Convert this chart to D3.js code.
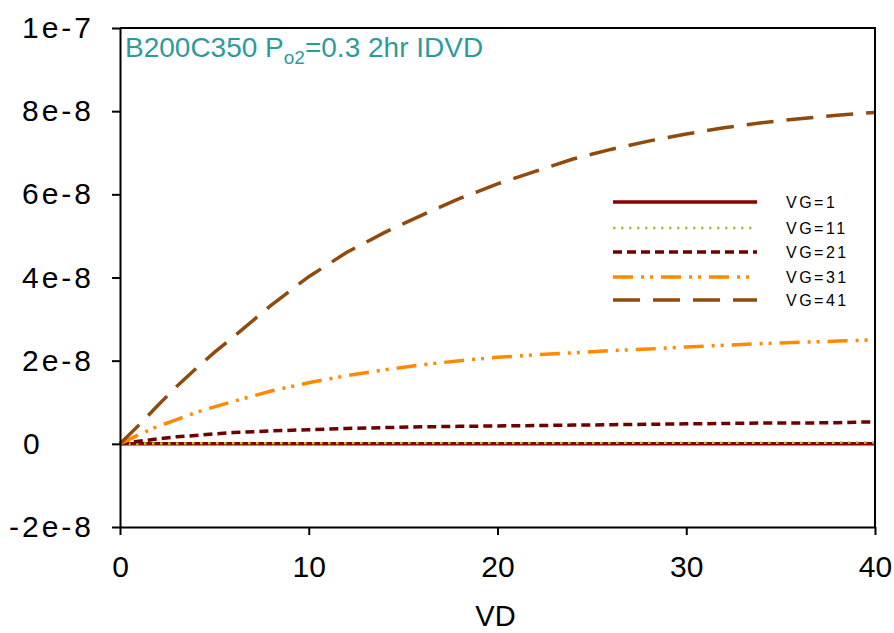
<!DOCTYPE html>
<html>
<head>
<meta charset="utf-8">
<script src="https://cdn.jsdelivr.net/npm/d3@7"></script>
<style>
  body { margin: 0; background: #fff; }
  text { font-family: "Liberation Sans", Arial, sans-serif; }
</style>
</head>
<body>
<div id="chart"></div>
<script>
// drain voltage (x)
const vd = [0, 1, 2, 3, 4, 5, 6, 8, 10, 12, 14, 16, 18, 20, 22, 24, 26, 28, 30, 32, 34, 36, 38, 40];
// drain current, in units of 1e-8
const vg1 = [0, 0, 0, 0, 0, 0, 0, 0, 0, 0, 0, 0, 0, 0, 0, 0, 0, 0, 0, 0, 0, 0, 0, 0];
const vg11 = [0, 0.005, 0.01, 0.01, 0.012, 0.013, 0.014, 0.015, 0.016, 0.017, 0.018, 0.019, 0.02, 0.02, 0.021, 0.022, 0.023, 0.024, 0.025, 0.026, 0.027, 0.028, 0.029, 0.03];
const vg21 = [0, 0.06, 0.12, 0.17, 0.2, 0.24, 0.27, 0.31, 0.34, 0.37, 0.39, 0.41, 0.42, 0.43, 0.44, 0.45, 0.46, 0.47, 0.48, 0.49, 0.5, 0.5, 0.51, 0.53];
const vg31 = [0, 0.22, 0.42, 0.58, 0.75, 0.89, 1.02, 1.27, 1.47, 1.64, 1.78, 1.9, 2.0, 2.08, 2.14, 2.19, 2.24, 2.28, 2.33, 2.37, 2.41, 2.44, 2.47, 2.5];
const vg41 = [0, 0.45, 0.92, 1.38, 1.8, 2.2, 2.57, 3.33, 4.02, 4.6, 5.08, 5.5, 5.9, 6.25, 6.55, 6.85, 7.08, 7.28, 7.45, 7.6, 7.72, 7.82, 7.9, 7.97];

const seriesNames = ["VG=1", "VG=11", "VG=21", "VG=31", "VG=41"];
const seriesValues = [vg1, vg11, vg21, vg31, vg41];

const xTicks = [0, 10, 20, 30, 40];
const yTicks = [-2e-8, 0, 2e-8, 4e-8, 6e-8, 8e-8, 1e-7];
const yTickLabels = ["-2e-8", "0", "2e-8", "4e-8", "6e-8", "8e-8", "1e-7"];

// line look per series
const styles = [
    { color: "#8b0000", width: 3.5, dash: null },
    { color: "#a8cc1c", width: 2.5, dash: "2.5,5.5" },
    { color: "#6e0000", width: 3.5, dash: "9,5" },
    { color: "#ff8a00", width: 3.5, dash: "20,8,3,6,3,8" },
    { color: "#8f4a0c", width: 3.5, dash: "27,13" }
];

const width = 894;
const height = 633;
const marginTop = 28;
const marginRight = 19;
const marginBottom = 106;
const marginLeft = 120;

const x = d3.scaleLinear()
    .domain([0, 40])
    .range([marginLeft, width - marginRight]);

const y = d3.scaleLinear()
    .domain([-2e-8, 1e-7])
    .range([height - marginBottom, marginTop]);

const svg = d3.select("#chart")
    .append("svg")
    .attr("width", width)
    .attr("height", height)
    .attr("viewBox", [0, 0, width, height]);

// lines
const line = d3.line()
    .x(d => x(d[0]))
    .y(d => y(d[1] * 1e-8));

seriesValues.forEach((vals, i) => {
    const s = styles[i];
    svg.append("path")
        .datum(vd.map((v, j) => [v, vals[j]]))
        .attr("fill", "none")
        .attr("stroke", s.color)
        .attr("stroke-width", s.width)
        .attr("stroke-dasharray", s.dash)
        .attr("d", line);
});

// frame: top and right edges
svg.append("path")
    .attr("fill", "none")
    .attr("stroke", "#000")
    .attr("stroke-width", 2)
    .attr("d", `M${x(0)},${y(1e-7)}H${x(40)}V${y(-2e-8)}`);

// y axis
svg.append("g")
    .attr("transform", `translate(${marginLeft},0)`)
    .call(d3.axisLeft(y).tickValues(yTicks).tickSize(8).tickSizeOuter(0)
        .tickFormat((d, i) => yTickLabels[i]))
    .call(g => g.select(".domain").attr("stroke-width", 2))
    .call(g => g.selectAll(".tick line").attr("stroke-width", 2))
    .selectAll("text")
    .attr("fill", "#000")
    .style("font-size", "30px")
    .style("letter-spacing", "3px")
    .attr("x", (d) => d === 0 ? -97 : -26)
    .attr("text-anchor", (d) => d === 0 ? "start" : "end");

// x axis
svg.append("g")
    .attr("transform", `translate(0,${height - marginBottom})`)
    .call(d3.axisBottom(x).tickValues(xTicks).tickSize(8).tickSizeOuter(0))
    .call(g => g.select(".domain").attr("stroke-width", 2))
    .call(g => g.selectAll(".tick line").attr("stroke-width", 2))
    .selectAll("text")
    .attr("fill", "#000")
    .style("font-size", "30px")
    .attr("y", 29);

// axis title
svg.append("text")
    .attr("x", x(20) - 2)
    .attr("y", 626)
    .attr("text-anchor", "middle")
    .style("font-size", "29px")
    .text("VD");

// chart title with subscript
const title = svg.append("text")
    .attr("x", 125)
    .attr("y", 57)
    .attr("fill", "#2f9a9a")
    .style("font-size", "28px");
title.append("tspan").text("B200C350 P");
title.append("tspan").attr("dy", 7).style("font-size", "19px").text("o2");
title.append("tspan").attr("dy", -7).text("=0.3 2hr IDVD");

// legend
const legendY = [202, 228, 252, 277, 300];
const legend = svg.append("g");
seriesNames.forEach((name, i) => {
    const s = styles[i];
    legend.append("line")
        .attr("x1", 613)
        .attr("x2", 757)
        .attr("y1", legendY[i])
        .attr("y2", legendY[i])
        .attr("stroke", s.color)
        .attr("stroke-width", s.width)
        .attr("stroke-dasharray", s.dash);
    legend.append("text")
        .attr("x", 786)
        .attr("y", legendY[i])
        .attr("dy", "0.36em")
        .style("font-size", "16px")
        .style("letter-spacing", "2.5px")
        .text(name);
});
</script>
</body>
</html>
